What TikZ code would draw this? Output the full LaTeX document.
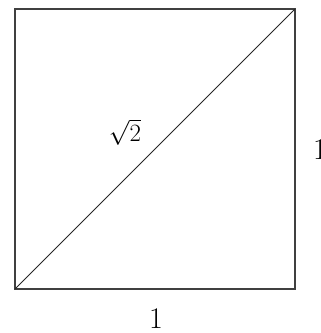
\documentclass[tikz,border=0pt]{standalone}
\begin{document}
\begin{tikzpicture}[x=1pt,y=-1pt,
  side/.style={draw=black!75,line width=1.6pt},
  diag/.style={draw=black!85,line width=1pt},
  lbl/.style={inner sep=0pt,font=\fontsize{30}{36}\selectfont}]
\useasboundingbox (0,0) rectangle (321,333);
\coordinate (A) at (15,289);
\coordinate (B) at (295,289);
\coordinate (C) at (295,9);
\coordinate (D) at (15,9);
\draw[side] (A) -- (B) -- (C) -- (D) -- cycle;
\draw[diag] (A) -- (C);
\node[lbl] (r) at (125,132) {$\sqrt{2}$};
\node[lbl] (b) at (156,319) {1};
\node[lbl,anchor=west] (s) at (313,150) {1};
\end{tikzpicture}
\end{document}
